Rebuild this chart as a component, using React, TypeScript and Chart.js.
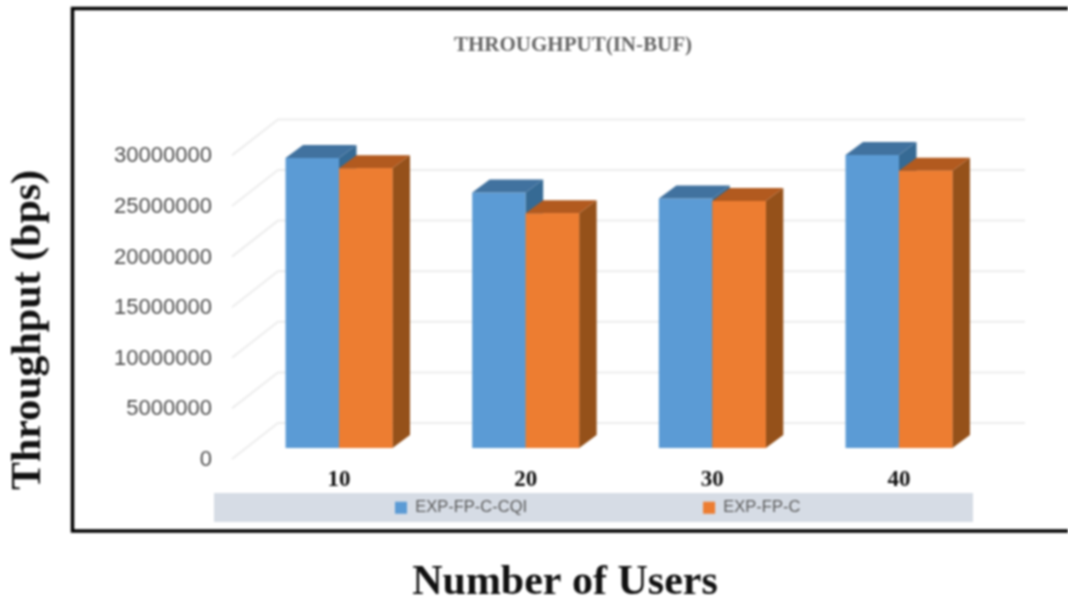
import React, { useEffect, useRef } from "react";
import { Chart, registerables } from "chart.js";

Chart.register(...registerables);

const categories = ["10", "20", "30", "40"];
const seriesCqi = [28650000, 25250000, 24650000, 28950000];
const seriesC = [27650000, 23200000, 24400000, 27400000];
const seriesNames = ["EXP-FP-C-CQI", "EXP-FP-C"];
const chartTitle = "THROUGHPUT(IN-BUF)";
const yTitle = "Throughput (bps)";
const xTitle = "Number of Users";

const W = 1068;
const H = 600;
const AREA = { left: 245.7, right: 992.3, top: 144.4, bottom: 448 };
const DEPTH = { dx: 17.5, dy: -13 };
const LEGEND_GAP = 176;
const SERIF = '"Liberation Serif"';
const SANS = '"Liberation Sans"';

const faces = [
  { front: "#5B9BD5", top: "#41729F", side: "#366A94" },
  { front: "#ED7D31", top: "#B25A1F", side: "#95511A" },
];

const scene = {
  id: "scene",
  beforeDraw(chart: any) {
    const { ctx } = chart;
    const y = chart.scales.y;
    ctx.save();
    ctx.fillStyle = "#fff";
    ctx.fillRect(0, 0, W, H);
    // outer frame, open on the right
    ctx.strokeStyle = "#000";
    ctx.lineWidth = 3.5;
    ctx.beginPath();
    ctx.moveTo(W + 5, 8.5);
    ctx.lineTo(72.5, 8.5);
    ctx.lineTo(72.5, 531);
    ctx.lineTo(W + 5, 531);
    ctx.stroke();
    // legend band
    ctx.fillStyle = "#D6DCE5";
    ctx.fillRect(214, 493, 759, 29);
    // floor + wall gridlines
    ctx.strokeStyle = "#EDEDED";
    ctx.lineWidth = 2;
    y.ticks.forEach((t: any) => {
      const p = y.getPixelForValue(t.value);
      ctx.beginPath();
      ctx.moveTo(232, p + 11);
      ctx.lineTo(278, p - 25);
      ctx.lineTo(1025, p - 25);
      ctx.stroke();
    });
    ctx.restore();
  },
  afterLayout(chart: any) {
    // move the title and legend boxes to their places in the picture
    const t = chart.titleBlock;
    t.left = 0;
    t.right = 1146;
    t.top = 33;
    t.bottom = 60;
    const l = chart.legend;
    l.left = 395 - LEGEND_GAP;
    l.right = W + 200;
    l.top = 499.5 - LEGEND_GAP;
    l.bottom = 530;
  },
  afterDatasetsDraw(chart: any) {
    const { ctx } = chart;
    [0, 1].forEach((di) => {
      const meta = chart.getDatasetMeta(di);
      meta.data.forEach((bar: any) => {
        const l = bar.x - bar.width / 2;
        const r = bar.x + bar.width / 2;
        const { dx, dy } = DEPTH;
        ctx.save();
        ctx.fillStyle = faces[di].side;
        ctx.beginPath();
        ctx.moveTo(r, bar.y);
        ctx.lineTo(r + dx, bar.y + dy);
        ctx.lineTo(r + dx, bar.base + dy);
        ctx.lineTo(r, bar.base);
        ctx.closePath();
        ctx.fill();
        ctx.fillStyle = faces[di].top;
        ctx.beginPath();
        ctx.moveTo(l, bar.y);
        ctx.lineTo(l + dx, bar.y + dy);
        ctx.lineTo(r + dx, bar.y + dy);
        ctx.lineTo(r, bar.y);
        ctx.closePath();
        ctx.fill();
        ctx.restore();
        if (di === 1) bar.draw(ctx);
      });
    });
  },
  afterDraw(chart: any) {
    const { ctx } = chart;
    ctx.save();
    ctx.fillStyle = "#111";
    ctx.font = `bold 42px ${SERIF}`;
    ctx.textBaseline = "alphabetic";
    ctx.textAlign = "center";
    ctx.fillText(xTitle, 565, 594);
    ctx.translate(40, 330);
    ctx.rotate(-Math.PI / 2);
    ctx.fillText(yTitle, 0, 0);
    ctx.restore();
  },
};

export default function App() {
  const ref = useRef<HTMLCanvasElement>(null);
  useEffect(() => {
    const chart = new Chart(ref.current!, {
      type: "bar",
      data: {
        labels: categories,
        datasets: [
          { label: seriesNames[0], data: seriesCqi, backgroundColor: faces[0].front },
          { label: seriesNames[1], data: seriesC, backgroundColor: faces[1].front },
        ],
      },
      plugins: [scene],
      options: {
        responsive: false,
        animation: false,
        layout: {
          padding: { left: 0, right: W - AREA.right, top: AREA.top - 25.2, bottom: 0 },
        },
        datasets: { bar: { barPercentage: 1, categoryPercentage: 0.573 } },
        plugins: {
          tooltip: { enabled: false },
          title: {
            display: true,
            text: chartTitle,
            color: "#666",
            padding: 0,
            font: { family: SERIF, size: 21, weight: "bold", lineHeight: 1.2 },
          },
          legend: {
            display: true,
            position: "bottom",
            align: "start",
            maxHeight: 30,
            labels: {
              boxWidth: 12,
              boxHeight: 12,
              padding: LEGEND_GAP,
              color: "#595959",
              font: { family: SANS, size: 16.5 },
            },
          },
        },
        scales: {
          x: {
            grid: { display: false, drawTicks: false },
            border: { display: false },
            ticks: {
              color: "#111",
              padding: 18,
              maxRotation: 0,
              font: { family: SERIF, size: 23, weight: "bold" },
            },
            afterFit(s: any) {
              s.width;
              s.height = H - AREA.bottom - s.chart.legend.height;
            },
          },
          y: {
            min: 0,
            max: 30000000,
            grid: { display: false, drawTicks: false },
            border: { display: false },
            ticks: {
              stepSize: 5000000,
              color: "#4D4D4D",
              padding: 33.7,
              labelOffset: 12,
              font: { family: SANS, size: 22 },
              callback: (v: any) => String(v),
            },
            afterFit(s: any) {
              s.width = AREA.left;
            },
          },
        },
      },
    } as any);
    return () => chart.destroy();
  }, []);
  return (
    <canvas
      ref={ref}
      width={W}
      height={H}
      style={{ position: "absolute", left: 0, top: 0, display: "block", filter: "blur(0.9px)" }}
    />
  );
}
